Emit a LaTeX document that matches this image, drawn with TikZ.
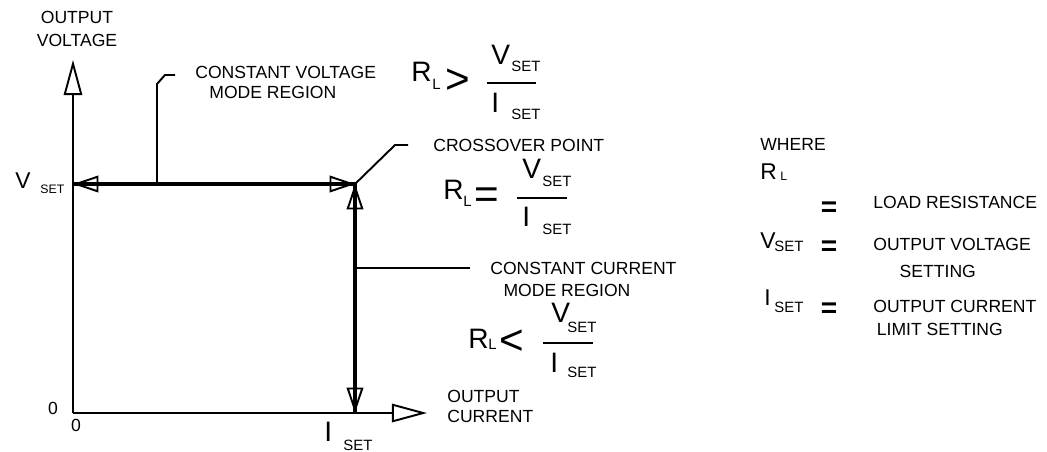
\documentclass[tikz,border=0pt]{standalone}
\usepackage{fontspec}
\setmainfont{Liberation Sans}
\usetikzlibrary{arrows.meta}

\begin{document}
\begin{tikzpicture}[x=0.02cm,y=-0.02cm,
  axis/.style={line width=1.1pt,-{Triangle[open,length=20pt,width=10.5pt,line width=1.1pt]}},
  thk/.style={line width=2.4pt},
  tips/.style={line width=2.4pt,{Triangle[open,length=14.5pt,width=9.5pt,line width=1.1pt]}-{Triangle[open,length=14.5pt,width=9.5pt,line width=1.1pt]}},
  lead/.style={line width=1.1pt},
  bar/.style={line width=1.6pt},
  txt/.style={inner sep=0pt,font=\fontsize{10}{12}\selectfont},
  big/.style={inner sep=0pt,anchor=west,font=\fontsize{16}{16}\selectfont},
  mid/.style={inner sep=0pt,anchor=west,font=\fontsize{13}{13}\selectfont},
  sub/.style={inner sep=0pt,anchor=west,font=\fontsize{8.5}{8.5}\selectfont},
  rel/.style={inner sep=0pt,font=\fontsize{24}{24}\selectfont},
  leq/.style={inner sep=0pt,font=\bfseries\fontsize{16}{16}\selectfont}]
  \useasboundingbox (0,0) rectangle (1047,451);

  % axes and the operating line
  \coordinate (o) at (73,413);
  \coordinate (ytip) at (73,60);
  \coordinate (xtip) at (427,413);
  \coordinate (vset) at (73,184);
  \coordinate (cross) at (355,184);
  \coordinate (iset) at (355,413);
  \draw[axis] (o) -- (ytip);
  \draw[axis] (o) -- (xtip);
  \draw[thk] (vset) -- (cross) -- (iset);
  \draw[tips] (vset) -- (cross);
  \draw[tips] (cross) -- (iset);

  % leaders
  \coordinate (cvfoot) at (157,184);
  \coordinate (cvend) at (175,75);
  \coordinate (coend) at (408,145);
  \coordinate (ccfoot) at (355,268);
  \coordinate (ccend) at (470,268);
  \draw[lead] (cvfoot) -- (157,84) -- (165,75) -- (cvend);
  \draw[lead] (cross) -- (395,145) -- (coend);
  \draw[lead] (ccfoot) -- (ccend);

  % axis labels
  \node[txt,align=center,anchor=north,font=\fontsize{10}{13}\selectfont] (ylab) at (77,11) {OUTPUT\\VOLTAGE};
  \node[txt,anchor=north west,align=left,font=\fontsize{10}{11.4}\selectfont] (xlab) at (447,390) {OUTPUT\\CURRENT};
  \node[txt] (yzero) at (53,408) {0};
  \node[txt] (xzero) at (76,425) {0};
  \node[mid] (vaxv) at (15,181) {V};
  \node[sub,font=\fontsize{7}{7}\selectfont] (vaxs) at (40,189) {SET};
  \node[big] (iaxi) at (324,432) {I};
  \node[sub] (iaxs) at (343,445) {SET};

  % region labels
  \node[txt,anchor=north west,align=left,font=\fontsize{10}{11.5}\selectfont] (cvlab) at (195,66) {CONSTANT VOLTAGE\\\hspace*{8pt}MODE REGION};
  \node[txt,anchor=west] (colab) at (433,145) {CROSSOVER POINT};
  \node[txt,anchor=north west,align=left,font=\fontsize{10}{12.5}\selectfont] (cclab) at (490,262) {CONSTANT CURRENT\\\hspace*{7.5pt}MODE REGION};

  % R_L > V/I
  \node[big] (gtr) at (411,72) {R};
  \node[sub] (gtl) at (432,84) {L};
  \node[rel] (gts) at (458,81) {>};
  \draw[bar] (487,83) -- (536,83);
  \node[big] (gtv) at (491,55) {V};
  \node[sub] (gtvs) at (511,66) {SET};
  \node[big] (gti) at (491,103) {I};
  \node[sub] (gtis) at (511,114) {SET};

  % R_L = V/I
  \node[big] (eqr) at (443,190) {R};
  \node[sub] (eql) at (463,201) {L};
  \node[rel] (eqs) at (487,198) {=};
  \draw[bar] (517,198) -- (567,198);
  \node[big] (eqv) at (522,169) {V};
  \node[sub] (eqvs) at (542,181) {SET};
  \node[big] (eqi) at (522,217) {I};
  \node[sub] (eqis) at (542,229) {SET};

  % R_L < V/I
  \node[big] (ltr) at (468,339) {R};
  \node[sub] (ltl) at (488,344) {L};
  \node[rel] (lts) at (512,342) {<};
  \draw[bar] (543,343) -- (593,343);
  \node[big] (ltv) at (551,313) {V};
  \node[sub] (ltvs) at (567,327) {SET};
  \node[big] (lti) at (550,363) {I};
  \node[sub] (ltis) at (567,372) {SET};

  % legend
  \node[txt,anchor=west] (where) at (760,144) {WHERE};
  \node[mid] (lgr) at (760,172) {R};
  \node[sub,font=\fontsize{7}{7}\selectfont] (lgl) at (780,176) {L};
  \node[leq] (lgeqr) at (829,209) {=};
  \node[txt,anchor=west] (lgrt) at (873,202) {LOAD RESISTANCE};
  \node[mid] (lgv) at (760,241) {V};
  \node[sub] (lgvs) at (774,246) {SET};
  \node[leq] (lgeqv) at (829,248) {=};
  \node[txt,anchor=north west,align=left,font=\fontsize{10}{15.4}\selectfont] (lgvt) at (873,238) {OUTPUT VOLTAGE\\\hspace*{15pt}SETTING};
  \node[mid] (lgi) at (764,298) {I};
  \node[sub] (lgis) at (774,307) {SET};
  \node[leq] (lgeqi) at (829,310) {=};
  \node[txt,anchor=north west,align=left,font=\fontsize{10}{13}\selectfont] (lgit) at (873,300) {OUTPUT CURRENT\\\hspace*{2pt}LIMIT SETTING};
\end{tikzpicture}
\end{document}
